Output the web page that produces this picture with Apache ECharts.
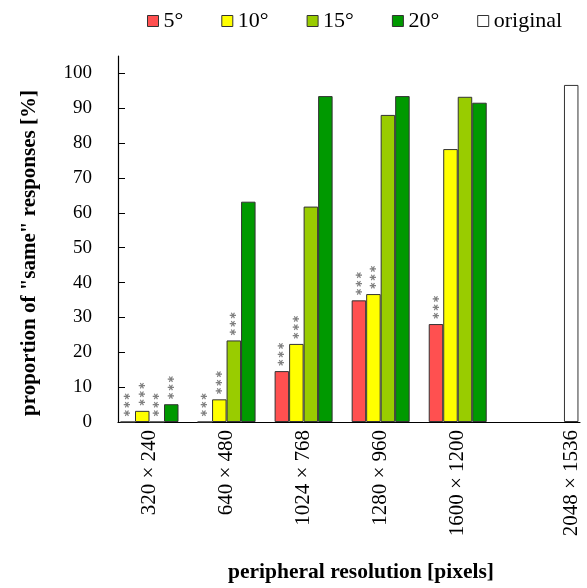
<!DOCTYPE html>
<html>
<head>
<meta charset="utf-8">
<script src="https://cdn.jsdelivr.net/npm/echarts@6/dist/echarts.min.js"></script>
<style>html,body{margin:0;padding:0;background:#fff}#c{width:587px;height:588px}</style>
</head>
<body>
<div id="c"></div>
<script>
const categories = ['320 × 240', '640 × 480', '1024 × 768', '1280 × 960', '1600 × 1200', '2048 × 1536'];
const seriesNames = ['5°', '10°', '15°', '20°'];
const values5  = [0, 0, 14.6, 34.9, 28.1];
const values10 = [3.2, 6.5, 22.4, 36.7, 78.3];
const values15 = [0, 23.4, 61.8, 88.1, 93.3];
const values20 = [5.1, 63.2, 93.5, 93.5, 91.6];
const valuesOriginal = [96.7];
// significance markers per bar (*** = p < .001)
const sig5  = ['***', '***', '***', '***', '***'];
const sig10 = ['***', '***', '***', '***', ''];
const sig15 = ['***', '***', '', '', ''];
const sig20 = ['***', '', '', '', ''];
const yTicks = [0, 10, 20, 30, 40, 50, 60, 70, 80, 90, 100];

const colors = ['#ff5050', '#ffff00', '#99cc00', '#009900', '#ffffff'];
const FONT = 'Liberation Serif';
const ORIGINAL_GAP = 1.473; // extra gap before the "original" cluster (in cluster units)
const xPos = categories.map((c, i) => i < 5 ? i : 4 + ORIGINAL_GAP);

function mkSeries(name, vals, sig, color) {
  return {
    name: name,
    type: 'bar',
    xAxisIndex: 0,
    barWidth: 14.5,
    barGap: '0%',
    itemStyle: { color: color, borderColor: '#333', borderWidth: 1 },
    label: {
      show: true,
      position: 'top',
      distance: 4,
      rotate: 90,
      align: 'left',
      verticalAlign: 'middle',
      color: '#808080',
      fontFamily: 'DejaVu Sans',
      fontWeight: 'bold',
      fontSize: 10,
      formatter: p => sig[p.dataIndex].replace(/\*/g, '\u2217')
    },
    data: vals.map((v, i) => [xPos[i], v])
  };
}

const chart = echarts.init(document.getElementById('c'), null, { renderer: 'canvas' });
const xCommon = {
  type: 'value',
  min: -0.409,
  max: 5.587,
  splitLine: { show: false }
};
chart.setOption({
  animation: false,
  textStyle: { fontFamily: FONT },
  legend: {
    top: 5,
    left: 142,
    itemWidth: 11,
    itemHeight: 11,
    itemGap: 38,
    icon: 'rect',
    itemStyle: { borderColor: '#333', borderWidth: 1 },
    textStyle: { fontFamily: FONT, fontSize: 22, color: '#000' },
    data: seriesNames.concat(['original'])
  },
  grid: { left: 118, right: 7, top: 56, bottom: 166, containLabel: false },
  xAxis: [
    Object.assign({}, xCommon, {
      axisLine: { show: true, onZero: false, lineStyle: { color: '#000', width: 1.2 } },
      axisTick: { show: false },
      axisLabel: {
        show: true,
        rotate: 90,
        margin: 8,
        fontFamily: FONT,
        fontSize: 21,
        color: '#000',
        customValues: xPos,
        formatter: v => {
          const i = xPos.findIndex(p => Math.abs(p - v) < 1e-6);
          return i >= 0 ? categories[i] : '';
        }
      }
    }),
    Object.assign({}, xCommon, { show: false })
  ],
  yAxis: {
    type: 'value',
    min: 0,
    max: 105,
    interval: 10,
    splitLine: { show: false },
    axisLine: { show: true, onZero: false, lineStyle: { color: '#000', width: 1.2 } },
    axisTick: { show: true, inside: true, length: 7, lineStyle: { color: '#000' }, customValues: yTicks },
    axisLabel: {
      margin: 26,
      fontFamily: FONT,
      fontSize: 19,
      color: '#000',
      padding: [9, 0, 0, 0],
      customValues: yTicks
    }
  },
  graphic: [
    {
      type: 'text',
      x: 30, y: 253,
      rotation: Math.PI / 2,
      style: {
        text: 'proportion of "same" responses [%]',
        font: 'bold 21px "Liberation Serif"',
        fill: '#000',
        textAlign: 'center',
        textVerticalAlign: 'middle'
      }
    },
    {
      type: 'text',
      x: 361, y: 572,
      style: {
        text: 'peripheral resolution [pixels]',
        font: 'bold 21.5px "Liberation Serif"',
        fill: '#000',
        textAlign: 'center',
        textVerticalAlign: 'middle'
      }
    }
  ],
  series: [
    mkSeries(seriesNames[0], values5, sig5, colors[0]),
    mkSeries(seriesNames[1], values10, sig10, colors[1]),
    mkSeries(seriesNames[2], values15, sig15, colors[2]),
    mkSeries(seriesNames[3], values20, sig20, colors[3]),
    {
      name: 'original',
      type: 'bar',
      xAxisIndex: 1,
      barWidth: 14.5,
      itemStyle: { color: colors[4], borderColor: '#333', borderWidth: 1 },
      data: valuesOriginal.map(v => [xPos[5], v])
    }
  ]
});
</script>
</body>
</html>
